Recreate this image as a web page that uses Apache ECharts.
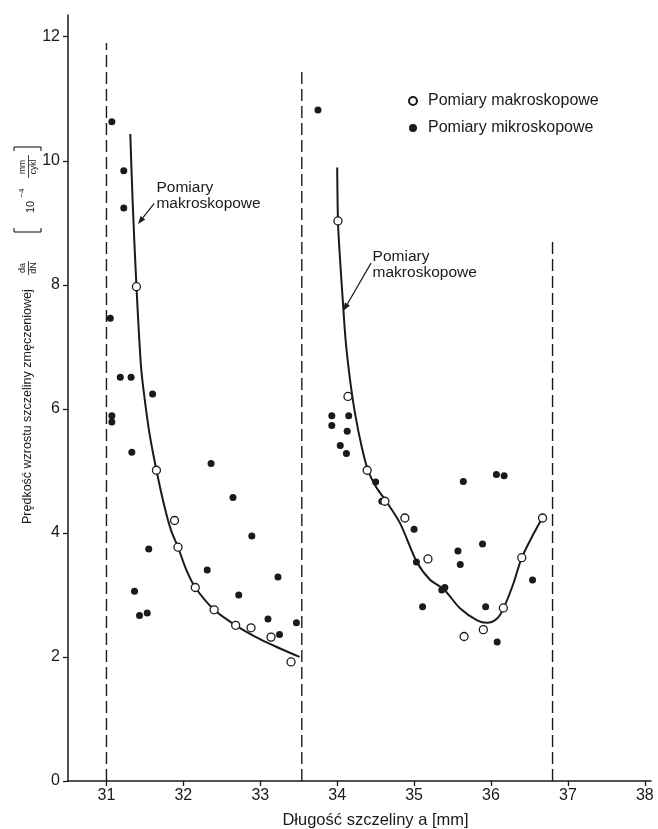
<!DOCTYPE html>
<html>
<head>
<meta charset="utf-8">
<script src="https://cdn.jsdelivr.net/npm/echarts@6/dist/echarts.min.js"></script>
<style>
  html, body { margin: 0; padding: 0; background: #fff; }
  #container1 { width: 658px; height: 829px; }
</style>
</head>
<body>
<div id="container1"></div>
<script>
// 坐标轴刻度
var xTicks = [31, 32, 33, 34, 35, 36, 37, 38];
var yTicks = [0, 2, 4, 6, 8, 10, 12];

// 宏观测量 (空心点)
var makroX = [31.39, 31.65, 31.885, 31.93, 32.155, 32.40, 32.68, 32.88, 33.14, 33.40,
  34.01, 34.14, 34.39, 34.62, 34.88, 35.18, 35.65, 35.90, 36.16, 36.40, 36.67];
var makroY = [7.97, 5.01, 4.20, 3.77, 3.12, 2.76, 2.51, 2.47, 2.32, 1.92,
  9.03, 6.20, 5.01, 4.51, 4.24, 3.58, 2.33, 2.44, 2.79, 3.60, 4.24];

// 微观测量 (实心点)
var mikroX = [31.07, 31.225, 31.225, 31.05, 31.18, 31.32, 31.60, 31.07, 31.07, 31.33,
  32.36, 32.645, 32.89, 31.55, 32.31, 33.23, 32.72, 31.365, 31.43, 31.53, 33.10, 33.47, 33.25,
  33.75, 33.93, 34.15, 33.93, 34.13, 34.04, 34.12, 34.50, 34.58, 35.0, 35.03, 35.36, 35.40,
  35.11, 35.64, 36.07, 36.17, 35.57, 35.60, 35.89, 35.93, 36.08, 36.54];
var mikroY = [10.63, 9.84, 9.24, 7.46, 6.51, 6.51, 6.24, 5.89, 5.79, 5.30,
  5.12, 4.57, 3.95, 3.74, 3.40, 3.29, 3.00, 3.06, 2.67, 2.71, 2.61, 2.55, 2.36,
  10.82, 5.89, 5.89, 5.73, 5.64, 5.41, 5.28, 4.82, 4.51, 4.06, 3.53, 3.08, 3.12,
  2.81, 4.83, 4.94, 4.92, 3.71, 3.49, 3.82, 2.81, 2.24, 3.24];

// 拟合曲线
var curveLeftX = [31.31, 31.34, 31.39, 31.45, 31.50, 31.56, 31.65, 31.755, 31.84, 31.93,
  32.04, 32.155, 32.40, 32.68, 32.99, 33.25, 33.51];
var curveLeftY = [10.43, 9.36, 7.97, 6.67, 6.13, 5.60, 5.01, 4.42, 4.04, 3.77,
  3.40, 3.12, 2.76, 2.51, 2.29, 2.14, 2.00];
var curveRightX = [34.00, 34.01, 34.03, 34.07, 34.11, 34.168, 34.233, 34.32, 34.40, 34.506,
  34.637, 34.82, 35.036, 35.21, 35.38, 35.60, 35.82, 35.95, 36.08, 36.165, 36.29, 36.40, 36.555, 36.67];
var curveRightY = [9.89, 9.03, 8.55, 7.80, 7.10, 6.46, 5.92, 5.38, 5.01, 4.74,
  4.51, 4.15, 3.53, 3.24, 3.10, 2.78, 2.59, 2.55, 2.62, 2.79, 3.18, 3.60, 3.99, 4.25];

// 虚线边界
var boundX = [31, 33.54, 36.8];
var boundTop = [11.9, 11.45, 8.71];

// 注释: 文字位置 + 箭头 (尾, 尖)
var annoTextX = [31.65, 34.46];
var annoTextY = [9.70, 8.58];
var arrowTailX = [31.62, 34.44];
var arrowTailY = [9.31, 8.35];
var arrowTipX = [31.41, 34.08];
var arrowTipY = [8.98, 7.58];

function zip(xs, ys) {
  var out = [];
  for (var i = 0; i < xs.length; i++) out.push([xs[i], ys[i]]);
  return out;
}

var FONT = '"Liberation Sans", Arial, sans-serif';
var INK = '#1a1a1a';

var series = [];
for (var i = 0; i < boundX.length; i++) {
  series.push({
    type: 'line',
    data: [[boundX[i], 0], [boundX[i], boundTop[i]]],
    symbol: 'none',
    silent: true,
    lineStyle: { color: INK, width: 1.4, type: [12, 5] },
    z: 1
  });
}
series.push({
  type: 'line',
  data: zip(curveLeftX, curveLeftY),
  symbol: 'none',
  smooth: 0.3,
  lineStyle: { color: INK, width: 2 },
  z: 2
});
series.push({
  type: 'line',
  data: zip(curveRightX, curveRightY),
  symbol: 'none',
  smooth: 0.3,
  lineStyle: { color: INK, width: 2 },
  z: 2
});
series.push({
  name: 'Pomiary makroskopowe',
  type: 'scatter',
  data: zip(makroX, makroY),
  symbol: 'circle',
  symbolSize: 8,
  itemStyle: { color: '#fff', borderColor: INK, borderWidth: 1.3, opacity: 1 },
  z: 4
});
series.push({
  name: 'Pomiary mikroskopowe',
  type: 'scatter',
  data: zip(mikroX, mikroY),
  symbol: 'circle',
  symbolSize: 7,
  itemStyle: { color: INK, opacity: 1 },
  z: 3
});

var option = {
  animation: false,
  backgroundColor: '#fff',
  grid: { left: 68, right: 7, top: 15, bottom: 48, outerBoundsMode: 'none', containLabel: false },
  legend: {
    data: ['Pomiary makroskopowe', 'Pomiary mikroskopowe'],
    orient: 'vertical',
    left: 403,
    top: 88,
    itemWidth: 20,
    itemHeight: 8,
    itemGap: 11,
    icon: 'circle',
    textStyle: { fontFamily: FONT, fontSize: 16, color: INK }
  },
  xAxis: {
    type: 'value',
    min: 30.5,
    max: 38.08,
    name: 'Długość szczeliny a [mm]',
    nameLocation: 'middle',
    nameGap: 31,
    nameTextStyle: { fontFamily: FONT, fontSize: 16.5, color: INK, padding: [0, 0, 0, 32] },
    axisLine: { show: true, onZero: false, lineStyle: { color: INK, width: 1.5 } },
    axisTick: { show: true, length: 5, customValues: xTicks, lineStyle: { color: INK, width: 1.3 } },
    axisLabel: { customValues: xTicks, fontFamily: FONT, fontSize: 16, color: INK, margin: 7 },
    splitLine: { show: false }
  },
  yAxis: {
    type: 'value',
    min: 0,
    max: 12.35,
    axisLine: { show: true, onZero: false, lineStyle: { color: INK, width: 1.5 } },
    axisTick: { show: true, length: 5, customValues: yTicks, lineStyle: { color: INK, width: 1.3 } },
    axisLabel: { customValues: yTicks, fontFamily: FONT, fontSize: 16, color: INK, margin: 8 },
    splitLine: { show: false }
  },
  series: series
};

var myChart = echarts.init(document.getElementById('container1'));
myChart.setOption(option);

// 注释文字与箭头
function px(x, y) {
  return myChart.convertToPixel({ gridIndex: 0 }, [x, y]);
}
var graphics = [];
for (var k = 0; k < annoTextX.length; k++) {
  var t = px(annoTextX[k], annoTextY[k]);
  graphics.push({
    type: 'text',
    x: t[0], y: t[1],
    style: {
      text: 'Pomiary\nmakroskopowe',
      font: '15.5px ' + FONT,
      fill: INK,
      lineHeight: 16,
      textAlign: 'left', align: 'left',
      textVerticalAlign: 'top', verticalAlign: 'top'
    }
  });
  var a = px(arrowTailX[k], arrowTailY[k]);
  var b = px(arrowTipX[k], arrowTipY[k]);
  var dx = b[0] - a[0], dy = b[1] - a[1];
  var len = Math.sqrt(dx * dx + dy * dy);
  var ux = dx / len, uy = dy / len;
  var hl = 8, hw = 3;
  var bx = b[0] - ux * hl, by = b[1] - uy * hl;
  graphics.push({
    type: 'line',
    shape: { x1: a[0], y1: a[1], x2: bx, y2: by },
    style: { stroke: INK, lineWidth: 1.2 }
  });
  graphics.push({
    type: 'polygon',
    shape: { points: [[b[0], b[1]], [bx - uy * hw, by + ux * hw], [bx + uy * hw, by - ux * hw]] },
    style: { fill: INK }
  });
}

// 纵轴标题 (旋转)
var small = function (txt, x, y, size, align) {
  return {
    type: 'text', x: x, y: y,
    style: {
      text: txt, font: size + 'px ' + FONT, fill: INK,
      textAlign: align || 'center', align: align || 'center',
      textVerticalAlign: 'middle', verticalAlign: 'middle'
    }
  };
};
var seg = function (x1, y1, x2, y2, w) {
  return { type: 'line', shape: { x1: x1, y1: y1, x2: x2, y2: y2 }, style: { stroke: INK, lineWidth: w || 1 } };
};
graphics.push({
  type: 'group',
  x: 28,
  y: 524,
  rotation: Math.PI / 2,
  children: [
    small('Prędkość wzrostu szczeliny zmęczeniowej', 0, 0, 12.5, 'left'),
    small('da', 256, -5, 9),
    small('dN', 256, 6, 9),
    seg(249, 0.5, 263, 0.5, 0.8),
    seg(292, -14, 292, 13, 1.1),
    seg(292, -14, 296, -14, 1.1),
    seg(292, 13, 296, 13, 1.1),
    small('10', 317, 3, 11),
    small('−4', 331, -6, 8),
    small('mm', 357, -5, 8.5),
    small('cykl', 357, 6, 8.5),
    seg(346, 0.5, 369, 0.5, 0.8),
    seg(377, -14, 377, 13, 1.1),
    seg(377, -14, 373, -14, 1.1),
    seg(377, 13, 373, 13, 1.1)
  ]
});

myChart.setOption({ graphic: graphics });
</script>
</body>
</html>
